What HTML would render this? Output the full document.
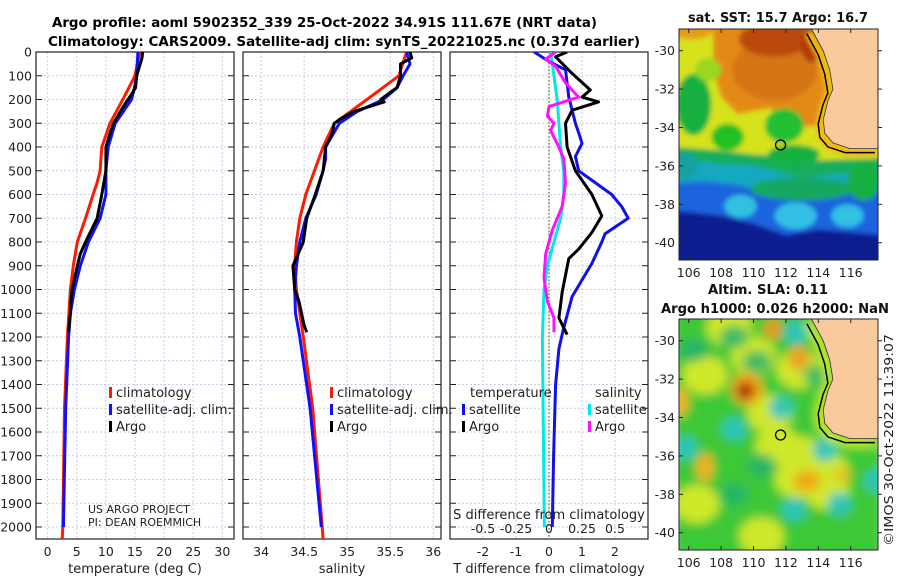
<!DOCTYPE html>
<html><head><meta charset="utf-8"><title>Argo profile</title>
<style>
html,body{margin:0;padding:0;background:#fff;}
svg{display:block;font-family:"DejaVu Sans","Liberation Sans",sans-serif;}
</style></head>
<body>
<svg id="fig" width="900" height="580" viewBox="0 0 900 580" xmlns="http://www.w3.org/2000/svg">
<defs>
<filter id="bl" x="-20%" y="-20%" width="140%" height="140%"><feGaussianBlur stdDeviation="2.5"/></filter>
<filter id="bl2" x="-30%" y="-30%" width="160%" height="160%"><feGaussianBlur stdDeviation="5"/></filter>
<clipPath id="c1"><rect x="679" y="29" width="199" height="231"/></clipPath>
<clipPath id="c2"><rect x="679" y="319" width="199" height="231"/></clipPath>
<clipPath id="p1"><rect x="36" y="52" width="198" height="487"/></clipPath>
<clipPath id="p2"><rect x="243" y="52" width="198" height="487"/></clipPath>
<clipPath id="p3"><rect x="450" y="52" width="198" height="487"/></clipPath>
</defs>
<g font-weight="bold" font-size="13">
<text x="52" y="27" textLength="545" lengthAdjust="spacingAndGlyphs">Argo profile: aoml 5902352_339 25-Oct-2022 34.91S 111.67E (NRT data)</text>
<text x="48" y="46" textLength="592" lengthAdjust="spacingAndGlyphs">Climatology: CARS2009. Satellite-adj clim: synTS_20221025.nc (0.37d earlier)</text>
</g>
<g id="charts"></g>
<g id="maps"></g>
</svg>
<script>
// ---------- DATA ----------
const depthTicks = [0,100,200,300,400,500,600,700,800,900,1000,1100,1200,1300,1400,1500,1600,1700,1800,1900,2000];
const tempTicks = [0,5,10,15,20,25,30];
const salTicks = [34,34.5,35,35.5,36];
const diffTicks = [-2,-1,0,1,2];
const sDiffTickLabels = ["-0.5","-0.25","0","0.25","0.5"];
const sDiffTicks = [-0.5,-0.25,0,0.25,0.5];

const climDepth = [0,100,200,300,400,500,550,600,700,800,900,1000,1200,1500,2000,2050];
const tempClim = [15.8,15.0,12.9,10.7,9.3,9.0,8.5,7.8,6.5,5.1,4.4,3.9,3.4,2.9,2.6,2.5];
const salClim = [35.69,35.60,35.23,34.85,34.72,34.62,34.57,34.52,34.45,34.41,34.39,34.41,34.49,34.60,34.71,34.72];

const satDepth = [0,50,100,150,200,250,300,350,400,450,500,600,700,800,900,1000,1100,1200,1500,2000];
const tempSat = [15.5,15.4,15.3,14.9,14.4,13.0,11.6,11.0,10.4,10.2,10.0,10.0,9.0,7.0,5.6,4.6,3.9,3.6,3.1,2.7];
const salSat = [35.69,35.73,35.65,35.58,35.42,35.12,34.91,34.83,34.75,34.75,34.72,34.64,34.52,34.45,34.41,34.39,34.40,34.45,34.57,34.70];

const argoDepth = [0,25,50,100,150,170,200,210,250,280,300,350,400,500,600,700,800,850,900,1000,1050,1100,1150,1180];
const tempArgo = [16.3,16.2,15.9,15.3,15.1,14.6,13.8,13.5,12.5,11.8,11.3,10.6,10.0,10.0,9.3,8.5,6.5,5.6,5.1,4.2,4.0,3.9,3.7,3.6];
const salArgo = [35.73,35.75,35.62,35.62,35.58,35.50,35.39,35.43,35.08,34.93,34.85,34.82,34.75,34.72,34.63,34.53,34.49,34.43,34.37,34.39,34.44,34.47,34.50,34.53];

// T differences (deg C)
const dTsatDepth = [0,40,75,190,300,340,385,440,500,550,600,650,700,765,800,890,1030,1170,1250,1400,1700,2000];
const dTsat = [-0.45,0.0,0.5,0.6,0.8,0.9,1.0,0.8,0.9,1.4,1.9,2.2,2.4,1.7,1.6,1.3,0.7,0.43,0.3,0.2,0.14,0.1];
const dTargoDepth = [0,20,90,160,190,210,245,300,400,500,600,690,760,830,870,1010,1120,1190];
const dTargo = [0.55,0.2,0.7,1.25,1.0,1.5,0.7,0.5,0.55,0.8,1.3,1.6,1.3,0.9,0.6,0.4,0.3,0.55];
// S differences (psu)
const dSsatDepth = [0,50,200,400,500,600,700,800,900,1000,1200,1500,2000];
const dSsat = [0.012,0.025,0.062,0.088,0.112,0.112,0.088,0.038,-0.012,-0.038,-0.05,-0.045,-0.035];
const dSargoDepth = [0,30,60,130,190,230,270,300,330,400,450,550,650,750,850,950,1050,1120,1180];
const dSargo = [0.05,-0.025,0.05,0.125,0.225,0,-0.012,0.038,0.012,0.075,0.112,0.125,0.1,0.025,-0.025,-0.038,-0.012,0.038,0.038];

// ---------- helpers ----------
const NS = "http://www.w3.org/2000/svg";
function mk(tag, attrs, parent){
  const e = document.createElementNS(NS, tag);
  for (const k in attrs) e.setAttribute(k, attrs[k]);
  if (parent) parent.appendChild(e);
  return e;
}
const TOP = 52, BOT = 539;
function yDepth(d){ return TOP + d*0.2375; }
const charts = document.getElementById('charts');

function panel(name, x0, x1, dmin, dmax, ticks, tickLabels, xlabel, clip, leftLabels){
  const g = mk('g', {}, charts);
  
  
  const sx = v => x0 + (v - dmin) / (dmax - dmin) * (x1 - x0);
  depthTicks.forEach(d => {
    const y = yDepth(d);
    const gl = mk('line', {x1:x0, x2:x1, y1:y, y2:y, stroke:'#c9cbe8', 'stroke-width':1, 'stroke-dasharray':'2,2'}, g);
    
    
    mk('line', {x1:x0, x2:x0+6, y1:y, y2:y, stroke:'#222', 'stroke-width':1}, g);
    mk('line', {x1:x1-6, x2:x1, y1:y, y2:y, stroke:'#222', 'stroke-width':1}, g);
    if (leftLabels){
      const t = mk('text', {x:x0-4, y:y+4.5, 'text-anchor':'end', 'font-size':12.5, fill:'#222'}, g);
      t.textContent = d;
      
      
    }
  });
  ticks.forEach((v,i) => {
    const x = sx(v);
    const gl = mk('line', {x1:x, x2:x, y1:TOP, y2:BOT, stroke:'#c9cbe8', 'stroke-width':1, 'stroke-dasharray':'2,2'}, g);
    
    
    const t = mk('text', {x:x, y:556, 'text-anchor':'middle', 'font-size':12.5, fill:'#222'}, g);
    t.textContent = tickLabels[i];
    
    
  });
  const fr = mk('rect', {x:x0, y:TOP, width:x1-x0, height:BOT-TOP, fill:'none', stroke:'#222', 'stroke-width':1.2}, g);
  
  
  const xl = mk('text', {x:(x0+x1)/2, y:573, 'text-anchor':'middle', 'font-size':13, fill:'#222'}, g);
  xl.textContent = xlabel;
  
  
  const lines = mk('g', {'clip-path':'url(#'+clip+')'}, g);
  return {g, sx, lines};
}
function series(p, depths, vals, color, w, name, scale){
  const pts = depths.map((d,i) => p.sx(vals[i]*(scale||1)).toFixed(1)+','+yDepth(d).toFixed(1)).join(' ');
  const l = mk('polyline', {points:pts, fill:'none', stroke:color, 'stroke-width':w, 'stroke-linejoin':'round'}, p.lines);
  
  
}
function legendEntry(g, x, y, color, label, name){
  const grp = mk('g', {}, g);
  
  
  mk('rect', {x:x, y:y-10, width:3, height:11, fill:color}, grp);
  const t = mk('text', {x:x+7, y:y, 'font-size':13, fill:'#222'}, grp);
  t.textContent = label;
}

const p1 = panel('temperature-panel', 36, 234, -2, 32, tempTicks, tempTicks.map(String), 'temperature (deg C)', 'p1', true);
series(p1, climDepth, tempClim, '#ff1a00', 3, 'temp-climatology-line');
series(p1, satDepth, tempSat, '#1010ff', 3, 'temp-satellite-line');
series(p1, argoDepth, tempArgo, '#000', 3, 'temp-argo-line');
legendEntry(p1.g, 109, 397, '#ff1a00', 'climatology', 'legend-climatology');
legendEntry(p1.g, 109, 414, '#1010ff', 'satellite-adj. clim.', 'legend-satellite');
legendEntry(p1.g, 109, 431, '#000', 'Argo', 'legend-argo');
{
  const t1 = mk('text', {x:88, y:513, 'font-size':11, fill:'#222'}, p1.g); t1.textContent = 'US ARGO PROJECT';
   
  const t2 = mk('text', {x:88, y:526, 'font-size':11, fill:'#222'}, p1.g); t2.textContent = 'PI: DEAN ROEMMICH';
   
}

const p2 = panel('salinity-panel', 243, 441, 33.79, 36.09, salTicks, salTicks.map(String), 'salinity', 'p2', false);
series(p2, climDepth, salClim, '#ff1a00', 3, 'sal-climatology-line');
series(p2, satDepth, salSat, '#1010ff', 3, 'sal-satellite-line');
series(p2, argoDepth, salArgo, '#000', 3, 'sal-argo-line');
legendEntry(p2.g, 330, 397, '#ff1a00', 'climatology', 'legend-climatology');
legendEntry(p2.g, 330, 414, '#1010ff', 'satellite-adj. clim.', 'legend-satellite');
legendEntry(p2.g, 330, 431, '#000', 'Argo', 'legend-argo');

const p3 = panel('difference-panel', 450, 648, -3, 3, diffTicks, diffTicks.map(String), 'T difference from climatology', 'p3', false);
{
  const zl = mk('line', {x1:p3.sx(0), x2:p3.sx(0), y1:TOP, y2:BOT, stroke:'#556b2f', 'stroke-width':1.2, 'stroke-dasharray':'1.5,2'}, p3.lines);
   
}
series(p3, dSsatDepth, dSsat, '#00e8e8', 3, 'sdiff-satellite-line', 4);
series(p3, dTsatDepth, dTsat, '#1010ee', 3, 'tdiff-satellite-line');
series(p3, dTargoDepth, dTargo, '#000', 3, 'tdiff-argo-line');
series(p3, dSargoDepth, dSargo, '#ff10ff', 3, 'sdiff-argo-line', 4);
{
  const h1 = mk('text', {x:470, y:397, 'font-size':13, fill:'#222'}, p3.g); h1.textContent='temperature';
   
  const h2 = mk('text', {x:595, y:397, 'font-size':13, fill:'#222'}, p3.g); h2.textContent='salinity';
   
}
legendEntry(p3.g, 462, 414, '#1010ee', 'satellite', 'legend-t-satellite');
legendEntry(p3.g, 462, 431, '#000', 'Argo', 'legend-t-argo');
legendEntry(p3.g, 588, 414, '#00e8e8', 'satellite', 'legend-s-satellite');
legendEntry(p3.g, 588, 431, '#ff10ff', 'Argo', 'legend-s-argo');
{
  const st = mk('text', {x:549, y:519, 'text-anchor':'middle', 'font-size':13, fill:'#222'}, p3.g);
  st.textContent = 'S difference from climatology';
   
  sDiffTicks.forEach((v,i) => {
    const t = mk('text', {x:p3.sx(v*4), y:533, 'text-anchor':'middle', 'font-size':12.5, fill:'#222'}, p3.g);
    t.textContent = sDiffTickLabels[i];
     
  });
}

// ---------- MAPS ----------
const maps = document.getElementById('maps');
const lonTicks = [106,108,110,112,114,116];
const latTicks = [-30,-32,-34,-36,-38,-40];
const coastLon = [113.6,114.3,114.7,114.9,114.6,114.3,114.4,114.9,115.96,117.8];
const coastLat = [-28.9,-30.0,-31.0,-32.0,-32.6,-33.6,-34.3,-34.8,-35.1,-35.1];
const argoLon = 111.67, argoLat = -34.91;

function mapPanel(name, top, latAt30, clipId){
  const g = mk('g', {}, maps);
  
  
  const X = lon => 679 + (lon - 105.4) * 16.2;
  const Y = lat => latAt30 + (-30 - lat) * 19.2;
  const body = mk('g', {'clip-path':'url(#'+clipId+')'}, g);
  return {g, X, Y, body, top};
}
function blob(m, parent, lon, lat, rx, ry, color, op){
  mk('ellipse', {cx:m.X(lon), cy:m.Y(lat), rx:rx*16.2, ry:ry*19.2, fill:color, 'fill-opacity':op||1}, parent);
}
function poly(m, parent, pts, color){
  mk('polygon', {points:pts.map(p=>m.X(p[0]).toFixed(1)+','+m.Y(p[1]).toFixed(1)).join(' '), fill:color}, parent);
}
function coast(m){
  const land = coastLon.map((l,i)=>m.X(l).toFixed(1)+','+m.Y(coastLat[i]).toFixed(1)).join(' ');
  const shelf = coastLon.map((l,i)=>(m.X(l)-5).toFixed(1)+','+(m.Y(coastLat[i])+4).toFixed(1)).join(' ');
  const pl = mk('polygon', {points: land + ' 890,'+m.Y(coastLat[coastLat.length-1])+' 890,'+(m.top-20)+' '+m.X(coastLon[0])+','+(m.top-20), fill:'#fac99c'}, m.body);
   
  const sh = mk('polyline', {points: shelf, fill:'none', stroke:'#000', 'stroke-width':1.5}, m.body);
   
  mk('polyline', {points: land, fill:'none', stroke:'#333', 'stroke-width':0.8}, m.body);
}
function mapAxes(m, top, h){
  lonTicks.forEach(v => {
    const x = m.X(v);
    mk('line', {x1:x, x2:x, y1:top+h, y2:top+h-4, stroke:'#222'}, m.g);
    mk('line', {x1:x, x2:x, y1:top, y2:top+4, stroke:'#222'}, m.g);
    const t = mk('text', {x:x, y:top+h+17, 'text-anchor':'middle', 'font-size':12.5, fill:'#222'}, m.g);
    t.textContent = v;
     
  });
  latTicks.forEach(v => {
    const y = m.Y(v);
    mk('line', {x1:679, x2:683, y1:y, y2:y, stroke:'#222'}, m.g);
    mk('line', {x1:878, x2:882, y1:y, y2:y, stroke:'#222'}, m.g);
    const t = mk('text', {x:675, y:y+4.5, 'text-anchor':'end', 'font-size':12.5, fill:'#222'}, m.g);
    t.textContent = v;
     
  });
  const fr = mk('rect', {x:679, y:top, width:199, height:h, fill:'none', stroke:'#222', 'stroke-width':1}, m.g);
   
  const pt = mk('circle', {cx:m.X(argoLon), cy:m.Y(argoLat), r:5, fill:'none', stroke:'#000', 'stroke-width':1.3}, m.g);
   
}

// SST map
const m1 = mapPanel('sst-map', 29, 50.7, 'c1');
{
  const f = mk('g', {filter:'url(#bl)'}, m1.body);
  poly(m1, f, [[105,-28],[118,-28],[118,-42],[105,-42]], '#0a1f8f');
  poly(m1, f, [[105,-28],[118,-28],[118,-39.6],[114,-39.3],[112,-39.6],[110,-39.0],[108,-38.6],[105,-38.3]], '#1d63de');
  poly(m1, f, [[105,-28],[118,-28],[118,-37.2],[112,-37.5],[109,-37.0],[107,-36.8],[105,-36.9]], '#18a8c0');
  poly(m1, f, [[105,-28],[118,-28],[118,-36.2],[113,-36.6],[110,-36.0],[108,-35.9],[105,-35.6]], '#14ae5a');
  blob(m1, f, 109.2, -38.1, 1.0, 0.6, '#30c0e0');
  blob(m1, f, 112.6, -38.6, 1.3, 0.7, '#30c0e4');
  blob(m1, f, 115.8, -38.6, 1.0, 0.6, '#30c0e4');
  blob(m1, f, 113, -37.2, 3.2, 0.6, '#14a860');
  blob(m1, f, 116.8, -36.8, 1.0, 1.0, '#16b040');
  poly(m1, f, [[105,-28],[118,-28],[118,-35.6],[114,-35.7],[112,-35.5],[110,-35.4],[108,-35.2],[105,-35.0]], '#d6e21c');
  poly(m1, f, [[107.5,-28],[114.5,-28],[114.5,-33.8],[113,-34.0],[111,-33.0],[109,-33.3],[108,-32.4],[107.5,-31.0]], '#e38a12');
  blob(m1, f, 106.2, -28.9, 1.3, 0.5, '#e89a14');
  blob(m1, f, 111.3, -31.0, 2.6, 1.6, '#d57414');
  blob(m1, f, 111.3, -29.4, 2.2, 0.9, '#bb4a10');
  blob(m1, f, 113.6, -29.6, 0.7, 1.0, '#b03a0c');
  blob(m1, f, 106.3, -32.8, 1.1, 1.6, '#18b040');
  blob(m1, f, 107.2, -31.0, 0.8, 0.6, '#9ad620');
  blob(m1, f, 108.4, -34.5, 1.0, 0.7, '#22c020');
  blob(m1, f, 111.9, -33.9, 1.2, 0.9, '#20c030');
  blob(m1, f, 112.5, -35.4, 1.6, 0.5, '#18b040');
  blob(m1, f, 105.8, -36.0, 0.8, 0.7, '#14a0a0');
  mk('polyline', {points:coastLon.map((l,i)=>(m1.X(l)-3)+','+(m1.Y(coastLat[i])+3)).join(' '), fill:'none', stroke:'#f2b810', 'stroke-width':9}, f);
  coast(m1);
  mapAxes(m1, 29, 231);
  const t = mk('text', {x:778, y:22, 'text-anchor':'middle', 'font-size':13, 'font-weight':'bold', fill:'#111', textLength:180, lengthAdjust:'spacingAndGlyphs'}, m1.g);
  t.textContent = 'sat. SST: 15.7 Argo: 16.7';
   
}

// SLA map
const m2 = mapPanel('sla-map', 319, 340.7, 'c2');
{
  const f = mk('g', {filter:'url(#bl2)'}, m2.body);
  poly(m2, f, [[105,-28],[118,-28],[118,-42],[105,-42]], '#3cc838');
  const yel = [[108.5,-29.3],[110,-30.8],[111,-33.8],[111.5,-35.5],[113,-36],[112.7,-37.2],[106.5,-38.5],[110.5,-40.2],[114.5,-37.8],[107,-31.8],[112.8,-31.5],[114.5,-36.8]];
  yel.forEach(p => blob(m2, f, p[0], p[1], 1.4, 1.0, '#cfe82c'));
  blob(m2, f, 109.6, -32.5, 1.0, 0.85, '#f0a418');
  blob(m2, f, 109.5, -32.6, 0.55, 0.45, '#a82c10');
  blob(m2, f, 113.3, -37.3, 0.85, 0.55, '#f0a818');
  blob(m2, f, 107.0, -36.6, 0.55, 0.75, '#f0b020');
  blob(m2, f, 112.8, -30.9, 0.65, 0.65, '#eca020');
  blob(m2, f, 111.2, -29.4, 0.55, 0.55, '#e89420');
  blob(m2, f, 105.5, -33.2, 0.5, 0.75, '#f0b020');
  blob(m2, f, 115.5, -37.0, 0.5, 0.4, '#e8c020');
  const cyan = [[111.7,-33.5],[108.8,-34.6],[105.8,-35.6],[112.5,-38.8],[115.3,-38.5],[117.6,-37.3],[114.4,-35.7],[112.6,-29.6]];
  cyan.forEach(p => blob(m2, f, p[0], p[1], 0.75, 0.6, '#28c4c8', 0.9));
  const teal = [[110.2,-31.1],[114,-31.8],[106.3,-30.5],[110.5,-36.5],[108.8,-38.0],[108.8,-29.8]];
  teal.forEach(p => blob(m2, f, p[0], p[1], 0.9, 0.6, '#20b070', 0.8));
  mk('polyline', {points:coastLon.map((l,i)=>(m2.X(l)-3)+','+(m2.Y(coastLat[i])+3)).join(' '), fill:'none', stroke:'#c8ee20', 'stroke-width':10}, f);
  coast(m2);
  mapAxes(m2, 319, 231);
  const t1 = mk('text', {x:768, y:294, 'text-anchor':'middle', 'font-size':13, 'font-weight':'bold', fill:'#111', textLength:120, lengthAdjust:'spacingAndGlyphs'}, m2.g);
  t1.textContent = 'Altim. SLA: 0.11';
   
  const t2 = mk('text', {x:775, y:313, 'text-anchor':'middle', 'font-size':13, 'font-weight':'bold', fill:'#111', textLength:228, lengthAdjust:'spacingAndGlyphs'}, m2.g);
  t2.textContent = 'Argo h1000: 0.026 h2000: NaN';
   
  const c = mk('text', {x:0, y:0, 'text-anchor':'middle', 'font-size':12.5, fill:'#222', transform:'translate(893,440) rotate(-90)', textLength:212, lengthAdjust:'spacingAndGlyphs'}, m2.g);
  c.textContent = '©IMOS 30-Oct-2022 11:39:07';
   
}
</script>
</body></html>
